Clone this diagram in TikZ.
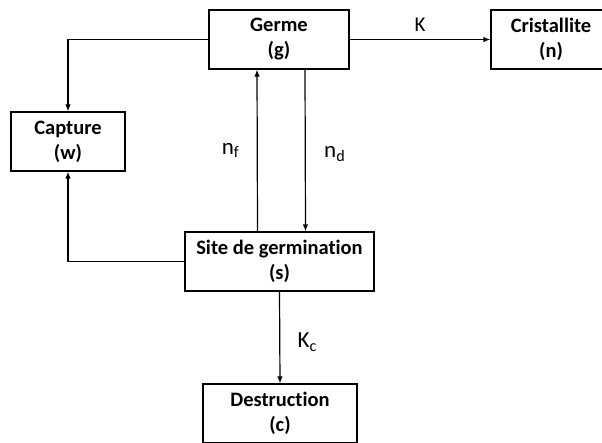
\documentclass[tikz,border=0pt]{standalone}
\usepackage{fontspec}
\setmainfont{Carlito}[Ligatures=NoCommon]
\usetikzlibrary{arrows.meta}

\begin{document}
\begin{tikzpicture}[x=1pt,y=-1pt,
    boite/.style={draw, line width=1.2pt, fill=white, minimum width=140pt, minimum height=59pt,
                  align=center, font=\fontsize{20.5}{25}\selectfont\bfseries, inner sep=0pt},
    fleche/.style={line width=1.2pt, -{Latex[length=7pt,width=5.5pt]}},
    etiq/.style={font=\fontsize{23}{26}\selectfont}]
    % cadre de la figure
    \useasboundingbox (0,0) rectangle (602,443);

    % les boites
    \node[boite] (germe) at (279,39.5) {Germe\\(g)};
    \node[boite, minimum width=120pt] (crist) at (551,39.5) {Cristallite\\(n)};
    \node[boite, minimum width=114pt] (capture) at (68,141.5) {Capture\\(w)};
    \node[boite, minimum width=189pt] (site) at (279.5,261.5) {Site de germination\\(s)};
    \node[boite, minimum width=154pt] (destr) at (280,413.5) {Destruction\\(c)};

    % les fleches
    \draw[fleche] (germe.east) -- node[etiq, font=\fontsize{21}{24}\selectfont, above=4pt] {K} (crist.west);
    \draw[fleche] (germe.west) -| (capture.north);
    \draw[fleche] ([xshift=-22pt]site.north) -- node[etiq, left=14pt, pos=0.5] {n\textsubscript{f}} ([xshift=-22pt]germe.south);
    \draw[fleche] ([xshift=26pt]germe.south) -- node[etiq, right=15pt, pos=0.52] {n\textsubscript{d}} ([xshift=26pt]site.north);
    \draw[fleche] (site.west) -| (capture.south);
    \draw[fleche] (site.south) -- node[etiq, right=14pt, pos=0.55] {K\textsubscript{c}} (destr.north);

\end{tikzpicture}
\end{document}
